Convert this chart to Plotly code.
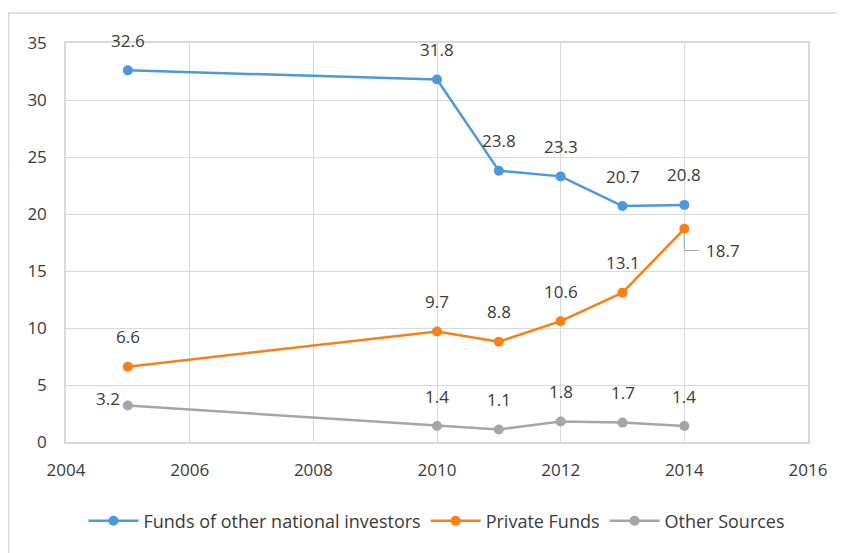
import plotly.graph_objects as go

# data
years = [2005, 2010, 2011, 2012, 2013, 2014]
national = [32.6, 31.8, 23.8, 23.3, 20.7, 20.8]
private = [6.6, 9.7, 8.8, 10.6, 13.1, 18.7]
other = [3.2, 1.4, 1.1, 1.8, 1.7, 1.4]

names = ["Funds of other national investors", "Private Funds", "Other Sources"]
colors = ["#4A9ADB", "#F97F16", "#A5A5A5"]
series = [national, private, other]

FONT = "Open Sans"
TXT = "#3A3A3A"

fig = go.Figure()
for name, vals, col in zip(names, series, colors):
    fig.add_trace(go.Scatter(
        x=years, y=vals, name=name, mode="lines+markers",
        line=dict(color=col, width=2.5),
        marker=dict(color=col, size=10),
    ))

# data labels
annotations = []
for vals, sname in zip(series, names):
    for i, (x, v) in enumerate(zip(years, vals)):
        a = dict(x=x, y=v, text=f"{v:.1f}", showarrow=False,
                 font=dict(family=FONT, size=17, color=TXT),
                 yshift=30)
        if sname == "Other Sources" and i == 0:
            a.update(xanchor="right", xshift=-6, yshift=7)
        if sname == "Private Funds" and i == len(vals) - 1:
            a.update(xanchor="left", xshift=20, yshift=-22)
        annotations.append(a)

# leader line for the last private-funds label
lx, ly = years[-1], private[-1]
fig.add_shape(type="path", xref="x", yref="y",
              path=f"M {lx},{ly - 0.45} L {lx},{ly - 1.9} L {lx + 0.23},{ly - 1.9}",
              line=dict(color="#A5A5A5", width=1))

# chart frame (page body margin shifts everything by 8px)
fig.add_shape(type="rect", xref="paper", yref="paper",
              x0=-0.0772, x1=1.067, y0=-0.316, y1=1.075,
              line=dict(color="#D9D9D9", width=1.5), layer="below")

fig.update_layout(
    width=845, height=553,
    margin=dict(l=58, r=45, t=35, b=119),
    paper_bgcolor="white", plot_bgcolor="white",
    font=dict(family=FONT, size=17, color=TXT),
    showlegend=True,
    legend=dict(orientation="h", x=0.5, xanchor="center", y=-0.198, yanchor="middle",
                font=dict(family=FONT, size=18, color=TXT), itemwidth=50),
    annotations=annotations,
)
fig.update_xaxes(range=[2004, 2016], dtick=2, tick0=2004, showgrid=True,
                 gridcolor="#D9D9D9", gridwidth=1, zeroline=False,
                 showline=True, linecolor="#D9D9D9", linewidth=1.5, mirror=True,
                 ticks="", ticklabelstandoff=12,
                 tickfont=dict(family=FONT, size=17, color=TXT))
fig.update_yaxes(range=[0, 35], dtick=5, showgrid=True,
                 gridcolor="#D9D9D9", gridwidth=1, zeroline=False,
                 showline=True, linecolor="#D9D9D9", linewidth=1.5, mirror=True,
                 ticks="", ticklabelstandoff=14,
                 tickfont=dict(family=FONT, size=17, color=TXT))

fig.write_html("out.html")
